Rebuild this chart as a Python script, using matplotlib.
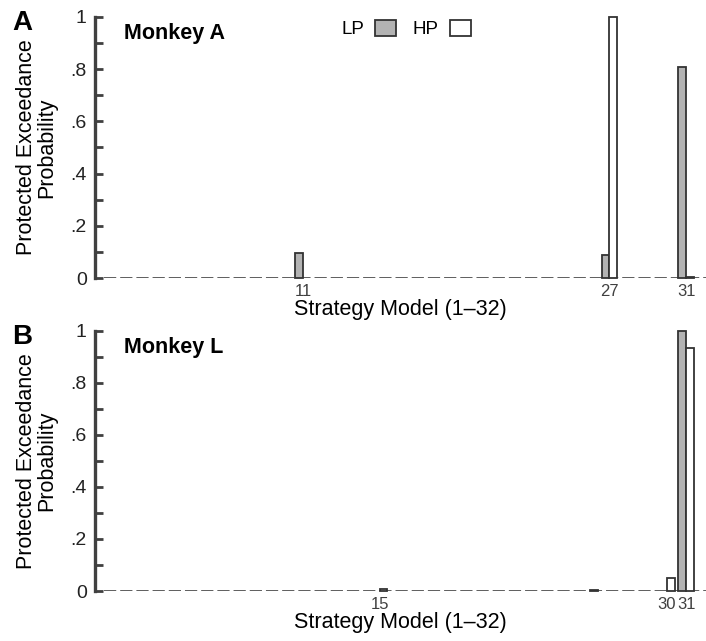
import numpy as np
import matplotlib.pyplot as plt
from matplotlib.ticker import FixedLocator, MultipleLocator
from matplotlib.patches import Patch

plt.rcParams['font.family'] = ['Liberation Sans', 'DejaVu Sans']

models = np.arange(1, 33)

# protected exceedance probability per strategy model (1-32)
lp_a = [0, 0, 0, 0, 0, 0, 0, 0, 0, 0, 0.095, 0, 0, 0, 0, 0,
        0, 0, 0, 0, 0, 0, 0, 0, 0, 0, 0.09, 0, 0, 0, 0.81, 0]
hp_a = [0, 0, 0, 0, 0, 0, 0, 0, 0, 0, 0, 0, 0, 0, 0, 0,
        0, 0, 0, 0, 0, 0, 0, 0, 0, 0, 1.0, 0, 0, 0, 0.003, 0]
lp_l = [0, 0, 0, 0, 0, 0, 0, 0, 0, 0, 0, 0, 0, 0, 0, 0,
        0, 0, 0, 0, 0, 0, 0, 0, 0, 0, 0, 0, 0, 0, 1.0, 0]
hp_l = [0, 0, 0, 0, 0, 0, 0, 0, 0, 0, 0, 0, 0, 0, 0.008, 0,
        0, 0, 0, 0, 0, 0, 0, 0, 0, 0.004, 0, 0, 0, 0.05, 0.935, 0]

ticks_a = [11, 27, 31]
ticks_l = [15, 30, 31]
yticks = [0, 0.2, 0.4, 0.6, 0.8, 1.0]
ylabels = ['0', '.2', '.4', '.6', '.8', '1']

dark = '#333333'
gray_fill = '#b3b3b3'

fig = plt.figure(figsize=(7.06, 6.41), dpi=100)
ax_a = fig.add_axes([0.1346, 0.5663, 0.8654, 0.4072])
ax_b = fig.add_axes([0.1346, 0.078, 0.8654, 0.406])


def draw(ax, lp, hp, xt, name, letter):
    w = 0.4
    lp_edge = [dark if v > 0 else 'none' for v in lp]
    hp_edge = [dark if v > 0 else 'none' for v in hp]
    ax.bar(models - w / 2, lp, width=w, color=gray_fill, edgecolor=lp_edge,
           linewidth=1.3, zorder=3, clip_on=False)
    ax.bar(models + w / 2, hp, width=w, color='white', edgecolor=hp_edge,
           linewidth=1.3, zorder=3, clip_on=False)
    ax.axhline(0, xmin=0.014, color=dark, lw=1.1, dashes=(8, 2.6), zorder=2)

    ax.set_xlim(0.14, 32.04)
    ax.set_ylim(0, 1)
    for s in ['top', 'right', 'bottom']:
        ax.spines[s].set_visible(False)
    ax.spines['left'].set_color('#404040')
    ax.spines['left'].set_linewidth(2.4)

    ax.yaxis.set_major_locator(FixedLocator(yticks))
    ax.yaxis.set_minor_locator(MultipleLocator(0.1))
    ax.set_yticklabels(ylabels)
    ax.tick_params(axis='y', which='both', direction='in', length=5.5,
                   width=2, color='#404040', labelsize=14, pad=6,
                   labelcolor='#222222')
    ax.xaxis.set_major_locator(FixedLocator(xt))
    ax.set_xticklabels([str(t) for t in xt])
    ax.tick_params(axis='x', length=0, labelsize=12, labelcolor='#404040', pad=4)

    ax.set_xlabel('Strategy Model (1\u201332)', fontsize=15.5, labelpad=0)
    ax.set_ylabel('Protected Exceedance\nProbability', fontsize=15.5,
                  linespacing=0.95)
    ax.yaxis.set_label_coords(-0.062, 0.5)
    ax.text(0.047, 0.935, name, transform=ax.transAxes, fontsize=15.5,
            fontweight='bold', va='center', ha='left')
    ax.text(-0.135, 0.977, letter, transform=ax.transAxes, fontsize=20,
            fontweight='bold', va='center', ha='left')


draw(ax_a, lp_a, hp_a, ticks_a, 'Monkey A', 'A')
draw(ax_b, lp_l, hp_l, ticks_l, 'Monkey L', 'B')

handles = [Patch(facecolor=gray_fill, edgecolor=dark, lw=1.3),
           Patch(facecolor='white', edgecolor=dark, lw=1.3)]
ax_a.legend(handles, ['LP', 'HP'], ncol=2, markerfirst=False, frameon=False,
            loc='center', bbox_to_anchor=(0.509, 0.954), fontsize=13.5,
            handlelength=1.1, handleheight=0.96, handletextpad=0.6,
            columnspacing=0.9, borderpad=0)

fig.savefig('out.png', dpi=100)
